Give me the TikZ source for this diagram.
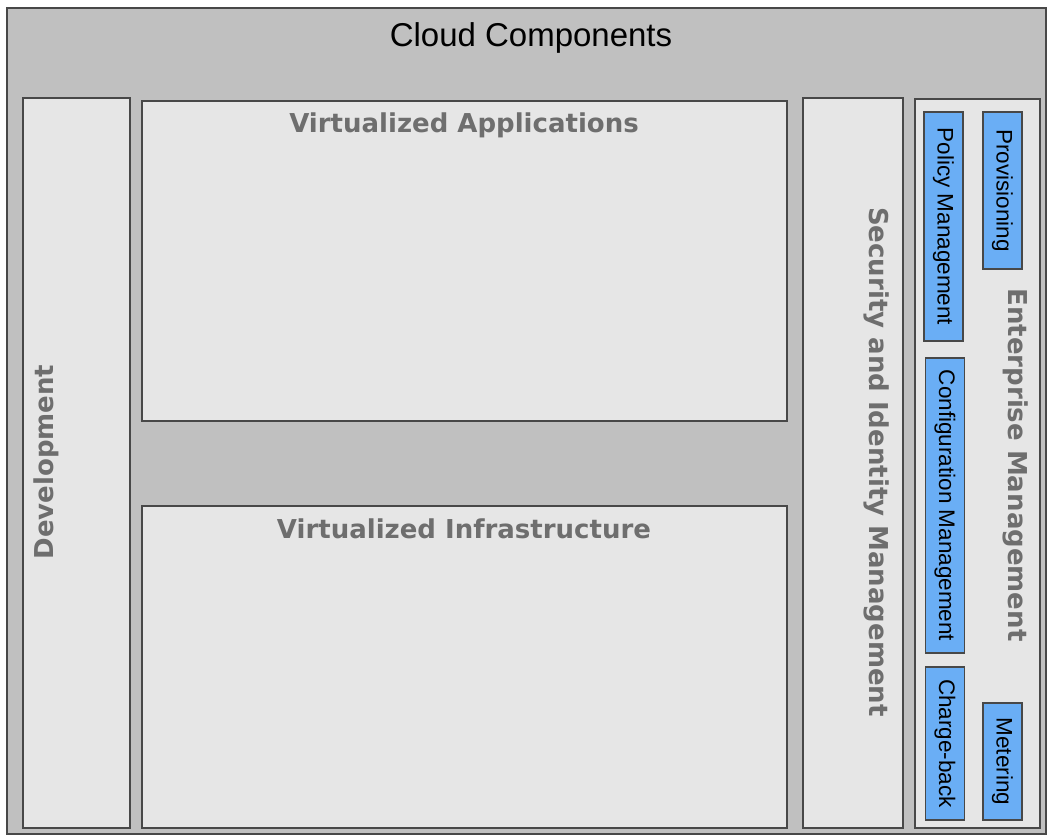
\documentclass[tikz,border=0pt]{standalone}
\usepackage{fontspec}
\setmainfont{Liberation Sans}
\newfontfamily\headfont{DejaVu Sans}
\usetikzlibrary{positioning}
\usepackage{xcolor}
\definecolor{cloudgray}{HTML}{C0C0C0}
\definecolor{panelgray}{HTML}{E6E6E6}
\definecolor{edgegray}{HTML}{484848}
\definecolor{titlegray}{HTML}{6E6E6E}
\definecolor{toolblue}{HTML}{6AAEF5}

\tikzset{
  panel/.style={draw=edgegray, fill=panelgray, line width=1.4pt, inner sep=0pt},
  toolbox/.style={draw=edgegray, fill=toolblue, line width=1.1pt, inner sep=0pt,
    rotate=-90, minimum height=39pt, font=\fontsize{22.5}{22.5}\selectfont},
  paneltitle/.style={text=titlegray, inner sep=0pt,
    font=\headfont\bfseries\fontsize{26}{26}\selectfont},
}

\begin{document}
\begin{tikzpicture}[x=1pt, y=-1pt]

  % Canvas
  \useasboundingbox (0,0) rectangle (1047,835);
  \fill[white] (0,0) rectangle (1047,835);

  % Cloud frame
  \filldraw[fill=cloudgray, draw=edgegray, line width=1.4pt] (7,8) rectangle (1046,834);
  \node[inner sep=0pt, font=\fontsize{33}{33}\selectfont] (cloud) at (531,38) {Cloud Components};

  % Big panels
  \node[panel, minimum width=107pt, minimum height=730pt] (devel) at (76.5,463) {};
  \node[panel, minimum width=645pt, minimum height=320pt] (apps) at (464.5,261) {};
  \node[panel, minimum width=645pt, minimum height=322pt] (infra) at (464.5,667) {};
  \node[panel, minimum width=100pt, minimum height=730pt] (secid) at (853,463) {};
  \node[panel, minimum width=125pt, minimum height=729pt] (entmgmt) at (977.5,463.5) {};

  % Panel titles
  \node[paneltitle, rotate=90] (develtitle) at (46,462) {Development};
  \node[paneltitle] (appstitle) at (464,125) {Virtualized Applications};
  \node[paneltitle] (infratitle) at (464,529) {Virtualized Infrastructure};
  \node[paneltitle, rotate=-90] (secidtitle) at (877,462) {Security and Identity Management};
  \node[paneltitle, rotate=-90] (entmgmttitle) at (1016,465) {Enterprise Management};

  % Management tools
  \node[toolbox, minimum width=157pt] (prov) at (1002.5,190.5) {Provisioning};
  \node[toolbox, minimum width=229pt] (policy) at (943.5,226.5) {Policy Management};
  \node[toolbox, minimum width=295pt] (config) at (945,505.5) {Configuration Management};
  \node[toolbox, minimum width=153pt] (charge) at (945,743.5) {Charge-back};
  \node[toolbox, minimum width=117pt] (meter) at (1002.5,761.5) {Metering};

\end{tikzpicture}
\end{document}
